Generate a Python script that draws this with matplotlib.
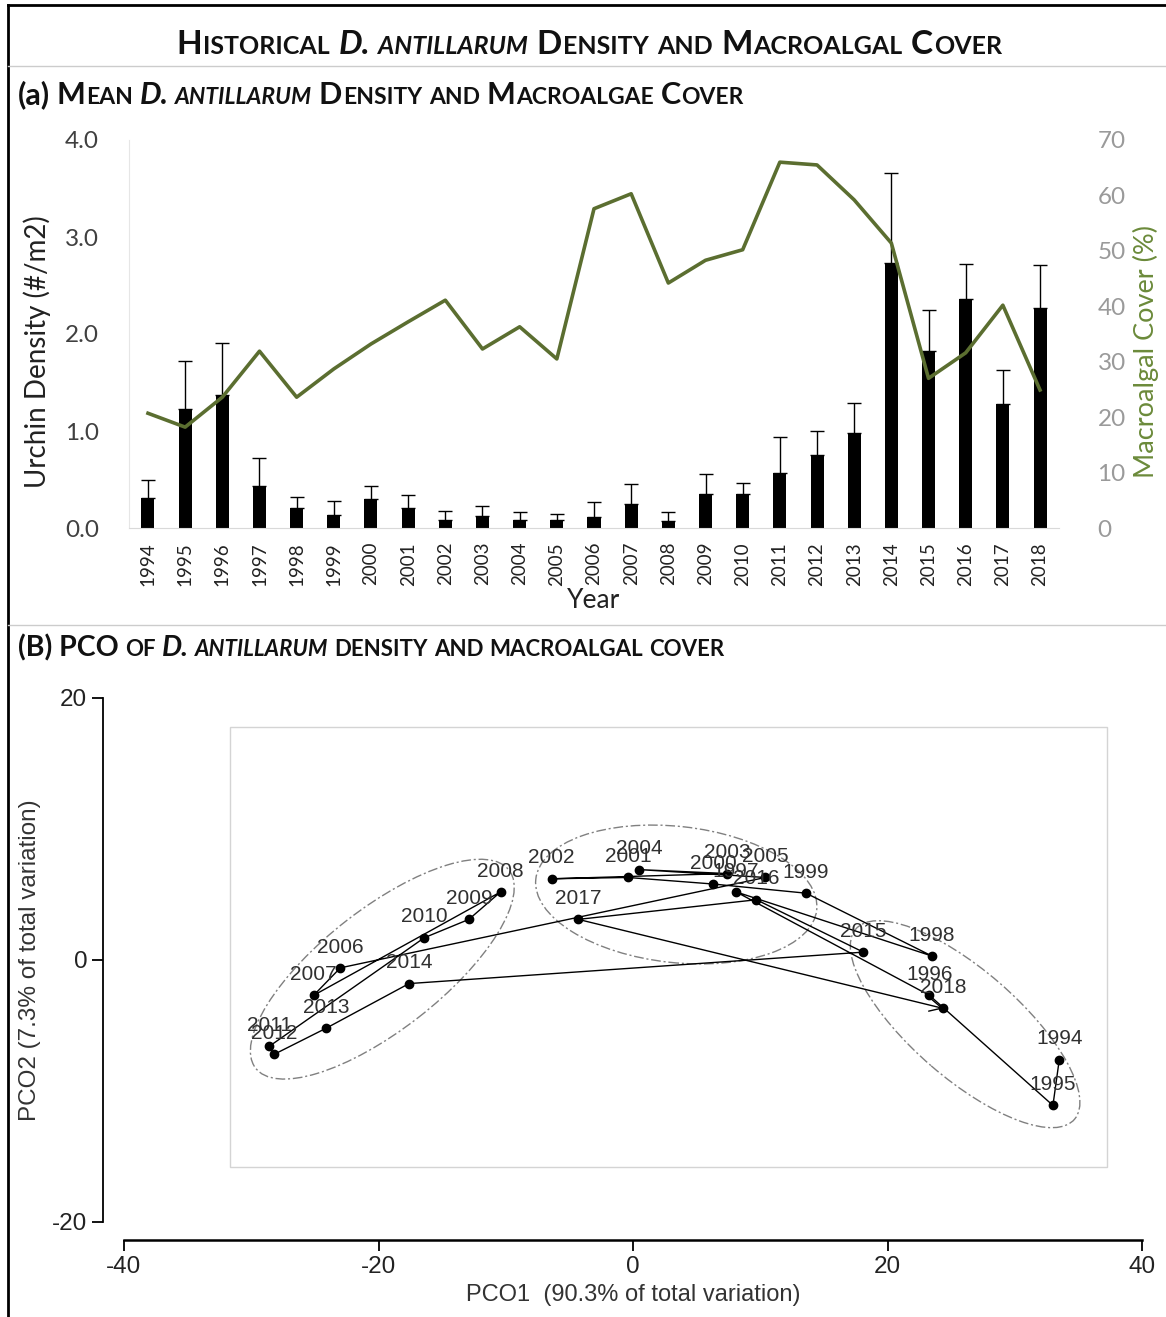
import matplotlib
matplotlib.use('Agg')
import matplotlib.pyplot as plt
from matplotlib.patches import Ellipse, Rectangle
from matplotlib.lines import Line2D

plt.rcParams['axes.unicode_minus'] = False

# (a) mean urchin density, upper error, macroalgal cover
years = list(range(1994, 2019))
density = [0.31, 1.23, 1.37, 0.43, 0.21, 0.13, 0.30, 0.21, 0.08, 0.12, 0.08, 0.08, 0.11,
           0.25, 0.07, 0.35, 0.35, 0.57, 0.75, 0.98, 2.73, 1.82, 2.36, 1.28, 2.27]
density_err = [0.18, 0.49, 0.54, 0.29, 0.11, 0.15, 0.13, 0.13, 0.10, 0.11, 0.09, 0.06, 0.16,
               0.20, 0.10, 0.21, 0.11, 0.37, 0.25, 0.31, 0.93, 0.43, 0.36, 0.35, 0.44]
macro_cover = [20.7, 18.2, 23.6, 31.9, 23.6, 28.7, 33.2, 37.2, 41.1, 32.3, 36.3, 30.5, 57.6,
               60.3, 44.2, 48.3, 50.2, 66.0, 65.5, 59.2, 51.4, 27.0, 31.6, 40.2, 24.9]

# (b) PCO scores
pco1 = [33.5, 33.0, 23.3, 8.1, 23.5, 13.6, 6.3, -0.4, -6.4, 7.4, 0.5, 10.4, -23.0,
        -25.1, -10.4, -12.9, -16.4, -28.6, -28.2, -24.1, -17.6, 18.1, 9.7, -4.3, 24.4]
pco2 = [-7.6, -11.1, -2.7, 5.2, 0.3, 5.1, 5.8, 6.3, 6.2, 6.6, 6.9, 6.3, -0.6,
        -2.7, 5.2, 3.1, 1.7, -6.6, -7.2, -5.2, -1.8, 0.6, 4.6, 3.1, -3.7]
# group ellipses: centre x, centre y, width, height, angle
ell_cx = [-19.7, 3.4, 26.1]
ell_cy = [-0.7, 5.0, -4.9]
ell_w = [25.0, 22.2, 22.5]
ell_h = [9.3, 10.4, 8.3]
ell_ang = [37, -6, -40]

W, H = 1166, 1317
fig = plt.figure(figsize=(W / 100, H / 100), dpi=100)
renderer = fig.canvas.get_renderer()


def small_caps(segments, x0, y0, big, small, center=False, gap=0.22):
    # segments: (text, italic, literal) ; uppercase -> big, lowercase -> small caps
    pieces = []
    for text, ital, literal in segments:
        if literal:
            pieces.append((text, big, ital))
            continue
        run, run_big = '', None
        for ch in text:
            is_big = not ch.islower()
            if run and is_big != run_big:
                pieces.append((run.upper(), big if run_big else small, ital))
                run = ''
            run += ch
            run_big = is_big
        if run:
            pieces.append((run.upper(), big if run_big else small, ital))
    x = 0
    placed = []
    for txt, size, ital in pieces:
        sp = gap * size * 100 / 72
        if txt.strip() == '':
            x += sp * len(txt)
            continue
        x += sp * (len(txt) - len(txt.lstrip(' ')))
        t = fig.text(0, y0, txt.strip(), size=size, weight='bold',
                     style='italic' if ital else 'normal', family='Lato',
                     color='#111111', va='baseline', ha='left')
        placed.append((t, x))
        x += t.get_window_extent(renderer).width + 1
        x += sp * (len(txt) - len(txt.rstrip(' ')))
    shift = x / 2 if center else 0
    for t, off in placed:
        t.set_x(x0 + (off - shift) / W)


small_caps([('Historical ', False, False), ('D. antillarum ', True, False),
            ('Density and Macroalgal Cover', False, False)],
           0.506, 1 - 54 / H, 24, 18, center=True)
small_caps([('(a) ', False, True), ('Mean ', False, False), ('D. antillarum ', True, False),
            ('Density and Macroalgae Cover', False, False)],
           18 / W, 1 - 104 / H, 22, 16.5, gap=0.18)
small_caps([('(B) PCO ', False, True), ('of ', False, False), ('D. antillarum ', True, False),
            ('density and macroalgal cover', False, False)],
           18 / W, 1 - 656 / H, 20.5, 16, gap=0.18)

# frame and separators
fig.add_artist(Line2D([8 / W, 8 / W], [0, 1 - 5 / H], color='black', lw=2))
fig.add_artist(Line2D([8 / W, 1], [1 - 5 / H, 1 - 5 / H], color='black', lw=2))
fig.add_artist(Line2D([8 / W, 1], [1 - 66 / H, 1 - 66 / H], color='#cccccc', lw=1))
fig.add_artist(Line2D([8 / W, 1], [1 - 625 / H, 1 - 625 / H], color='#cccccc', lw=1))

# ---------- panel (a)
x = list(range(len(years)))
ax1 = fig.add_axes([129.4 / W, 1 - 528 / H, (1058.6 - 129.4) / W, 388 / H])
ax1.bar(x, density, width=0.35, color='black', zorder=2,
        yerr=[[0] * len(density), density_err],
        error_kw=dict(ecolor='black', elinewidth=1, capsize=5, capthick=1))
ax1.set_xlim(-0.5, len(years) - 0.5)
ax1.set_ylim(0, 4)
ax1.set_yticks([0, 1, 2, 3, 4])
ax1.set_yticklabels(['0.0', '1.0', '2.0', '3.0', '4.0'])
ax1.set_xticks(x)
ax1.set_xticklabels([str(y) for y in years], rotation=90, family='Lato', size=13.5,
                    color='#222222')
for lab in ax1.get_yticklabels():
    lab.set_family('Lato')
    lab.set_size(17.5)
    lab.set_color('#404040')
ax1.tick_params(axis='both', length=0)
ax1.tick_params(axis='y', pad=22)
ax1.tick_params(axis='x', pad=10)
for s in ['top', 'right']:
    ax1.spines[s].set_visible(False)
ax1.spines['left'].set_color('#e6e6e6')
ax1.spines['bottom'].set_color('#d9d9d9')
ax1.set_xlabel('Year', family='Lato', size=19, color='#222222', labelpad=2)
ax1.set_ylabel('Urchin Density (#/m2)', family='Lato', size=20, color='#222222')
ax1.yaxis.set_label_coords(-0.084, 0.455)

ax2 = ax1.twinx()
ax2.plot(x, macro_cover, color='#5b6e30', lw=2.6, zorder=3)
ax2.set_ylim(0, 70)
ax2.set_yticks(range(0, 71, 10))
for lab in ax2.get_yticklabels():
    lab.set_family('Lato')
    lab.set_size(17.5)
    lab.set_color('#9a9a9a')
ax2.tick_params(axis='y', length=0, pad=28)
for s in ['top', 'right', 'left', 'bottom']:
    ax2.spines[s].set_visible(False)
ax2.set_ylabel('Macroalgal Cover (%)', family='Lato', size=19.5, color='#6b8a3a')
ax2.yaxis.set_label_coords(1.080, 0.455)

# ---------- panel (b)
ax3 = fig.add_axes([124 / W, 1 - 1222 / H, (1142 - 124) / W, 524 / H])
ax3.set_xlim(-40, 40)
ax3.set_ylim(-20, 20)
ax3.add_patch(Rectangle((0.104, 0.105), 0.862, 0.84, transform=ax3.transAxes,
                        fill=False, edgecolor='#d4d4d4', lw=1))
for cx, cy, w, h, a in zip(ell_cx, ell_cy, ell_w, ell_h, ell_ang):
    ax3.add_patch(Ellipse((cx, cy), w, h, angle=a, fill=False, edgecolor='#808080',
                          lw=1, ls=(0, (7, 2, 1.5, 2))))
ax3.plot(pco1[:-1], pco2[:-1], color='black', lw=1, zorder=3)
ax3.annotate('', xy=(pco1[-1], pco2[-1]), xytext=(pco1[-2], pco2[-2]),
             arrowprops=dict(arrowstyle='->', color='black', lw=1, mutation_scale=22,
                             shrinkA=0, shrinkB=0), zorder=3)
ax3.plot(pco1, pco2, 'o', color='black', ms=6, zorder=4)
for yr, px, py in zip(years, pco1, pco2):
    ax3.annotate(str(yr), (px, py), xytext=(0, 15), textcoords='offset points',
                 ha='center', va='center', size=15, family='Liberation Sans',
                 color='#303030', zorder=5)
for s in ['top', 'right']:
    ax3.spines[s].set_visible(False)
ax3.spines['left'].set_position(('outward', 15))
ax3.spines['bottom'].set_position(('outward', 13))
ax3.spines['left'].set_bounds(-20, 20)
ax3.spines['bottom'].set_bounds(-40, 40)
ax3.spines['left'].set_linewidth(1.3)
ax3.spines['bottom'].set_linewidth(1.8)
ax3.set_xticks([-40, -20, 0, 20, 40])
ax3.set_yticks([-20, 0, 20])
ax3.tick_params(axis='both', direction='out', length=8, width=1.3, labelsize=17.5,
                labelcolor='#222222')
for lab in ax3.get_xticklabels() + ax3.get_yticklabels():
    lab.set_family('Liberation Sans')
ax3.set_xlabel('PCO1  (90.3% of total variation)', family='Liberation Sans', size=17,
               color='#333333', labelpad=4)
ax3.set_ylabel('PCO2 (7.3% of total variation)', family='Liberation Sans', size=17.5,
               color='#333333', labelpad=8)

fig.savefig('out.png', dpi=100)
